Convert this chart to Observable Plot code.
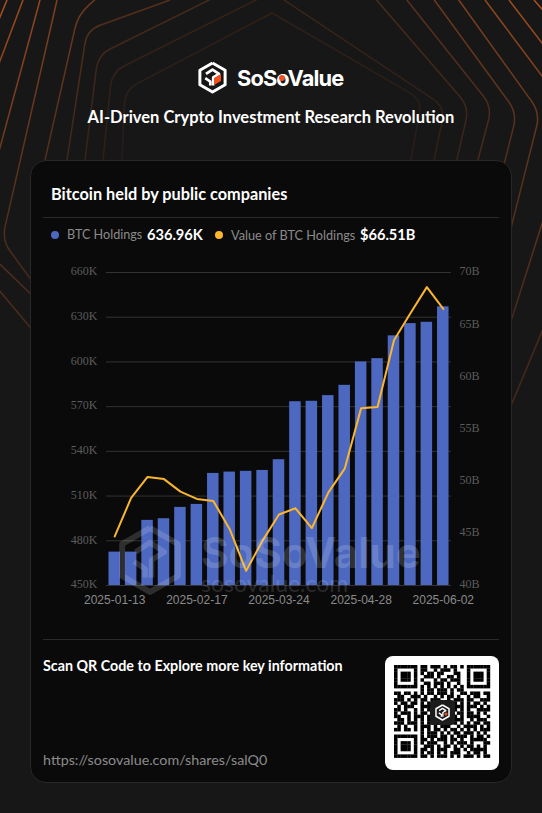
<!DOCTYPE html>
<html><head><meta charset="utf-8">
<script src="https://cdn.jsdelivr.net/npm/d3@7"></script>
<script src="https://cdn.jsdelivr.net/npm/@observablehq/plot@0.6"></script>
<style>
html,body{margin:0;padding:0;background:#171717;}
#page{position:relative;width:542px;height:813px;overflow:hidden;background:#171717;font-family:Lato,sans-serif;}
#page>*{position:absolute;}
.t{white-space:nowrap;line-height:1;}
#card{left:30px;top:160px;width:480px;height:621px;background:#0a0a0a;border:1px solid #282828;border-radius:16px;}
.rule{height:1px;background:#2a2a2a;}
.dot{width:8px;height:8px;border-radius:50%;}
</style></head><body>
<div id="page">
<svg id="bg" width="542" height="813" style="left:0;top:0"></svg>
<svg id="logo" width="542" height="120" style="left:0;top:0"></svg>
<div class="t" style="left:237px;top:65px;font:700 21.8px Inter,sans-serif;letter-spacing:-.85px;color:#fff;line-height:26px" id="brand">SoSoValue</div>
<div style="left:279px;top:75px;width:6px;height:6px;border-radius:50%;background:#f0501e"></div>
<div class="t" style="left:0;width:542px;text-align:center;top:109px;font-size:16.5px;font-weight:700;color:#fff">AI-Driven Crypto Investment Research Revolution</div>
<div id="card"></div>
<div class="t" style="left:51px;top:186px;font-size:16.3px;font-weight:700;color:#fff">Bitcoin held by public companies</div>
<div class="rule" style="left:43px;top:217px;width:456px"></div>
<div class="dot" style="left:51px;top:231px;background:#4d68c1"></div>
<div class="t" style="left:67px;top:229px;font-size:12.6px;color:#8a8a8a">BTC Holdings</div>
<div class="t" style="left:147px;top:228px;font-size:14.6px;font-weight:700;color:#fff">636.96K</div>
<div class="dot" style="left:215px;top:231px;background:#fbb62e"></div>
<div class="t" style="left:231px;top:229px;font-size:12.7px;color:#8a8a8a">Value of BTC Holdings</div>
<div class="t" style="left:360px;top:228px;font-size:14.6px;font-weight:700;color:#fff">$66.51B</div>
<div id="chart" style="left:0;top:230px"></div>
<svg id="wm" width="100" height="100" style="left:100px;top:510px"></svg>
<div class="t" style="left:201px;top:533px;font:700 42px Inter,sans-serif;letter-spacing:0;color:rgba(255,255,255,.17);line-height:40px">SoSoValue</div>
<div class="t" style="left:201px;top:573px;font:400 23px Lato,sans-serif;color:rgba(255,255,255,.15);line-height:20px">sosovalue.com</div>
<div class="rule" style="left:43px;top:639px;width:456px"></div>
<div class="t" style="left:43px;top:659px;font-size:14.3px;font-weight:700;color:#fff">Scan QR Code to Explore more key information</div>
<div class="t" style="left:43px;top:753px;font-size:14.3px;color:#8c8c8c">https://sosovalue.com/shares/salQ0</div>
<svg id="qr" width="114" height="114" style="left:385px;top:656px"></svg>
</div>
<script>
// ---- chart data ----
const weeks = ["2025-01-13","2025-01-20","2025-01-27","2025-02-03","2025-02-10","2025-02-17","2025-02-24","2025-03-03","2025-03-10","2025-03-17","2025-03-24","2025-03-31","2025-04-07","2025-04-14","2025-04-21","2025-04-28","2025-05-05","2025-05-12","2025-05-19","2025-05-26","2025-06-02"];
const holdingsK = [472.4,472.4,493.7,494.8,502.4,504.4,525.2,526.1,526.6,527.2,534.4,573.3,573.6,577.4,584.3,600,602.2,617.5,625.7,626.6,636.96];
const valueB = [44.7,48.4,50.4,50.2,49.0,48.3,48.1,45.4,41.4,44.3,46.8,47.4,45.5,48.9,51.2,57.0,57.1,63.5,66.1,68.6,66.51];
const leftTicks = [450,480,510,540,570,600,630,660];
const rightTicks = [40,45,50,55,60,65,70];
const xTicks = ["2025-01-13","2025-02-17","2025-03-24","2025-04-28","2025-06-02"];

const toLeft = d3.scaleLinear().domain([40,70]).range([450,660]);
const rows = weeks.map((w,i)=>({w,h:holdingsK[i],v:toLeft(valueB[i])}));
const axisFont = {fontSize:12,fontFamily:"'Liberation Serif',serif",fill:"#5c5c5c",tickSize:0,label:null};
const plot = Plot.plot({
  width:542,height:380,marginLeft:106,marginRight:91,marginTop:42,marginBottom:25,
  style:{background:"transparent",overflow:"visible"},
  x:{type:"band",domain:weeks,paddingInner:0.3,paddingOuter:0.15,align:0.5,round:false},
  y:{domain:[450,660]},
  marks:[
    Plot.ruleY(leftTicks,{stroke:"#333",strokeWidth:1}),
    Plot.barY(rows,{x:"w",y1:450,y2:"h",fill:"#4d68c1"}),
    Plot.line(rows,{x:"w",y:"v",stroke:"#fbb62e",strokeWidth:2,curve:"linear"}),
    Plot.axisY({anchor:"left",ticks:leftTicks,tickPadding:9,tickFormat:d=>d+"K",dy:-1,...axisFont}),
    Plot.axisY({anchor:"right",ticks:rightTicks.map(toLeft),tickPadding:8,tickFormat:d=>Math.round(toLeft.invert(d))+"B",dy:-1,...axisFont}),
    Plot.axisX({ticks:xTicks,tickSize:0,tickPadding:10,label:null,fontSize:12,fontFamily:"'Liberation Sans',sans-serif",fill:"#8a8a8a"})
  ]
});
document.getElementById("chart").appendChild(plot);

// ---- decoration: background contour lines ----
const contours = [
 [[272,13],[125,90],[122,160]],
 [[272,-8],[112,72],[103,160]],
 [[290,-40],[98,55],[85,160]],
 [[170,0],[87,30],[67,160]],
 [[100,-5],[78,15],[45,160]],
 [[57,0],[2,240],[40,292]],
 [[40,0],[-25,240],[40,303]],
 [[23,0],[-60,220],[40,339]],
 [[7,0],[-30,90]],
 [[272,13],[422,100],[405,190]],
 [[272,-8],[445,107],[428,190]],
 [[342,-40],[469,107],[450,190]],
 [[375,-40],[492,107],[470,190]],
 [[405,-40],[517,113],[490,220]],
 [[430,-40],[540,113],[510,232]],
 [[485,0],[575,120],[505,340]],
 [[509,0],[620,145],[505,420]],
 [[534,0],[600,75]]
];
const tone = [.16,.22,.32,.42,.6,.72,.85,.92,1, .16,.24,.34,.46,.6,.72,.85,.92,1];
function rounded(pts,r){
  let d="M"+pts[0];
  for(let i=1;i<pts.length-1;i++){
    const [p,c,n]=[pts[i-1],pts[i],pts[i+1]];
    const a=Math.hypot(p[0]-c[0],p[1]-c[1]),b=Math.hypot(n[0]-c[0],n[1]-c[1]);
    d+=`L${c[0]+(p[0]-c[0])*r/a},${c[1]+(p[1]-c[1])*r/a}Q${c}, ${c[0]+(n[0]-c[0])*r/b},${c[1]+(n[1]-c[1])*r/b}`;
  }
  return d+"L"+pts[pts.length-1];
}
d3.select("#bg").append("defs").append("linearGradient").attr("id","fade").attr("gradientUnits","userSpaceOnUse")
  .attr("x1",0).attr("y1",0).attr("x2",0).attr("y2",340)
  .selectAll("stop").data([[0,"#a9501f"],[.45,"#7a3e20"],[1,"#4a2a1a"]]).join("stop")
  .attr("offset",d=>d[0]).attr("stop-color",d=>d[1]);
d3.select("#bg").selectAll("path").data(contours).join("path")
  .attr("d",d=>rounded(d,14)).attr("fill","none").attr("stroke","url(#fade)").attr("stroke-width",1.5)
  .attr("stroke-opacity",(d,i)=>tone[i]);

// ---- decoration: hexagon logo ----
function hexLogo(g,cx,cy,s,color,w){
  const P=(x,y)=>[cx+x*s,cy+y*s];
  const line=(pts,sw=w)=>g.append("path").attr("d","M"+pts.map(p=>P(...p)).join("L")).attr("fill","none").attr("stroke",color).attr("stroke-width",sw).attr("stroke-linejoin","round");
  line([[0,-1],[.87,-.5],[.87,.5],[0,1],[-.87,.5],[-.87,-.5],[0,-1]]);
  line([[-.45,-.25],[0,-.55],[.45,-.25],[.05,0],[.05,.55]],w*.9);
  line([[-.5,.05],[-.15,.28],[-.15,.55]],w*.9);
}
const lg=d3.select("#logo"); hexLogo(lg,212.5,77.5,14.5,"#fff",3);
lg.append("path").attr("d","M214,78L221,74L221,81L214,85Z").attr("fill","#f0501e");
const wm=d3.select("#wm"); hexLogo(wm,50,50,32,"rgba(255,255,255,.15)",6);

// ---- decoration: QR code ----
const F=["#######","#.....#","#.###.#","#.###.#","#.###.#","#.....#","#######"];
const topMid=["##.###.#.##.#","##..#.###.#..","#.##.##...##.",".###.#..##.#.","#...#.##.###.",".##.###.#..#.","#.#.#.#.#.#.#"];
const midRows=[
 "........#.##.###.#.##........",
 "##.##.#.#.##.###.#..##.###.##",
 ".##..###.#..#.#.##.#..#.##..#",
 "###.#.#.##.###..#.###.##..###",
 "#.##.##.#.#.......#.#.#.##.#.",
 ".#.###..###.......###.###.#.#",
 "##.#..#.#.#.......#.#.#..####",
 "#.###.#.##.........##.##.#.#.",
 "##..#.###.#.......#.#.####..#",
 ".##.#.#.#.#.......###..#.###.",
 "###.###.#.##.#.##.#.#.#.##.##",
 ".#.#..#.###.#.###..#.####.#.#",
 "##.##.#.#.#.##.#.##.#.#.#.###",
 "........#.###.#.#.##.###.#.#."
];
const botMid=["#.###.##.#.###.#.##.#","##.#.###.##.#..#####.","#.###..#.#.###.#...##",".###.#.##.#.#.##.#.#.","##.#.###..##.#.#####.","#.##.#.#.###..#.##.#.","##.#.###.#.#.###.#.##"];
const qr=[];
F.forEach((f,i)=>qr.push(f+"."+topMid[i]+"."+f));
midRows.forEach(r=>qr.push(r));
F.forEach((f,i)=>qr.push(f+"."+botMid[i]));
const q=d3.select("#qr");
q.append("rect").attr("width",114).attr("height",114).attr("rx",8).attr("fill","#fff");
const m=96/29, o=9;
qr.forEach((r,y)=>[...r].forEach((c,x)=>{ if(c==="#")
  q.append("rect").attr("x",o+x*m).attr("y",o+y*m).attr("width",m+.2).attr("height",m+.2).attr("fill","#000");}));
q.append("rect").attr("x",45).attr("y",44).attr("width",25).attr("height",25).attr("rx",4).attr("fill","#1c1c1c");
const qg=q.append("g"); hexLogo(qg,57.5,56.5,7.5,"#fff",1.5);
qg.append("circle").attr("cx",61).attr("cy",58).attr("r",1.5).attr("fill","#f0501e");
</script>
</body></html>
